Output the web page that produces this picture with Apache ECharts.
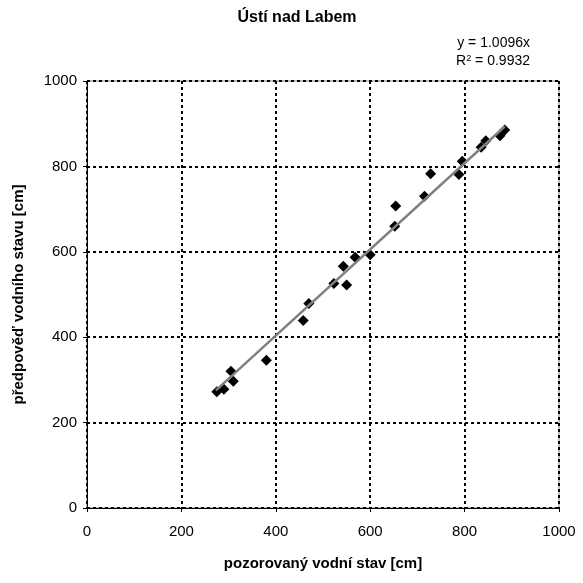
<!DOCTYPE html>
<html>
<head>
<meta charset="utf-8">
<script src="https://cdn.jsdelivr.net/npm/echarts@6/dist/echarts.min.js"></script>
<style>html,body{margin:0;padding:0;background:#fff}#c{width:583px;height:583px}</style>
</head>
<body>
<div id="c"></div>
<script>
const titleText = "Ústí nad Labem";
const xName = "pozorovaný vodní stav [cm]";
const yName = "předpověď vodního stavu [cm]";
const observed = [275,290,305,310,380,458,470,523,543,550,568,600,652,654,715,728,788,795,835,845,875,885];
const predicted = [272,278,320,297,346,439,479,526,566,522,587,593,660,707,730,783,781,812,845,860,872,885];
const slope = 1.0096;
const r2 = 0.9932;
const trendX = [273, 885];

const pts = observed.map((x,i)=>[x,predicted[i]]);
const trend = trendX.map(x=>[x, slope*x]);
const font = "Liberation Sans, Arial, sans-serif";

const chart = echarts.init(document.getElementById('c'), null, {renderer:'canvas'});
chart.setOption({
  animation:false,
  backgroundColor:'#fff',
  title:{text:titleText,left:292,textAlign:'center',top:5,textStyle:{fontFamily:font,fontSize:16,fontWeight:'bold',color:'#000'}},
  grid:{left:87,right:24,top:81,bottom:75,show:true,borderColor:'#808080',borderWidth:1},
  xAxis:{type:'value',min:0,max:1000,interval:200,
    name:xName,nameLocation:'middle',nameGap:48,
    nameTextStyle:{fontFamily:font,fontSize:15,fontWeight:'bold',color:'#000'},
    axisLine:{show:true,onZero:false,lineStyle:{color:'#000',width:1}},
    axisTick:{show:true,length:4,lineStyle:{color:'#000'}},
    axisLabel:{fontFamily:font,fontSize:15,color:'#000',margin:16,formatter:v=>String(v)},
    splitLine:{show:true,lineStyle:{color:'#000',width:2,type:[3,3]}}},
  yAxis:{type:'value',min:0,max:1000,interval:200,
    name:yName,nameLocation:'middle',nameGap:61,
    nameTextStyle:{fontFamily:font,fontSize:15,fontWeight:'bold',color:'#000'},
    axisLine:{show:true,onZero:false,lineStyle:{color:'#000',width:1}},
    axisTick:{show:true,length:4,lineStyle:{color:'#000'}},
    axisLabel:{fontFamily:font,fontSize:15,color:'#000',margin:10,formatter:v=>String(v)},
    splitLine:{show:true,lineStyle:{color:'#000',width:2,type:[3,3]}}},
  series:[
    {type:'scatter',data:pts,symbol:'diamond',symbolSize:11,itemStyle:{color:'#000',opacity:1},z:3},
    {type:'line',data:trend,symbol:'none',lineStyle:{color:'#808080',width:2.5},z:4}
  ],
  graphic:[
    {type:'text',right:53,top:36,style:{text:'y = '+slope.toFixed(4)+'x',font:'14px '+font,fill:'#000'}},
    {type:'text',right:53,top:54,style:{text:'{a|R}{s|2}{a| = '+r2.toFixed(4)+'}',rich:{a:{fontFamily:font,fontSize:14,fill:'#000'},s:{fontFamily:font,fontSize:9,fill:'#000',verticalAlign:'top',padding:[0,0,6,0]}}}}
  ]
});
</script>
</body>
</html>
